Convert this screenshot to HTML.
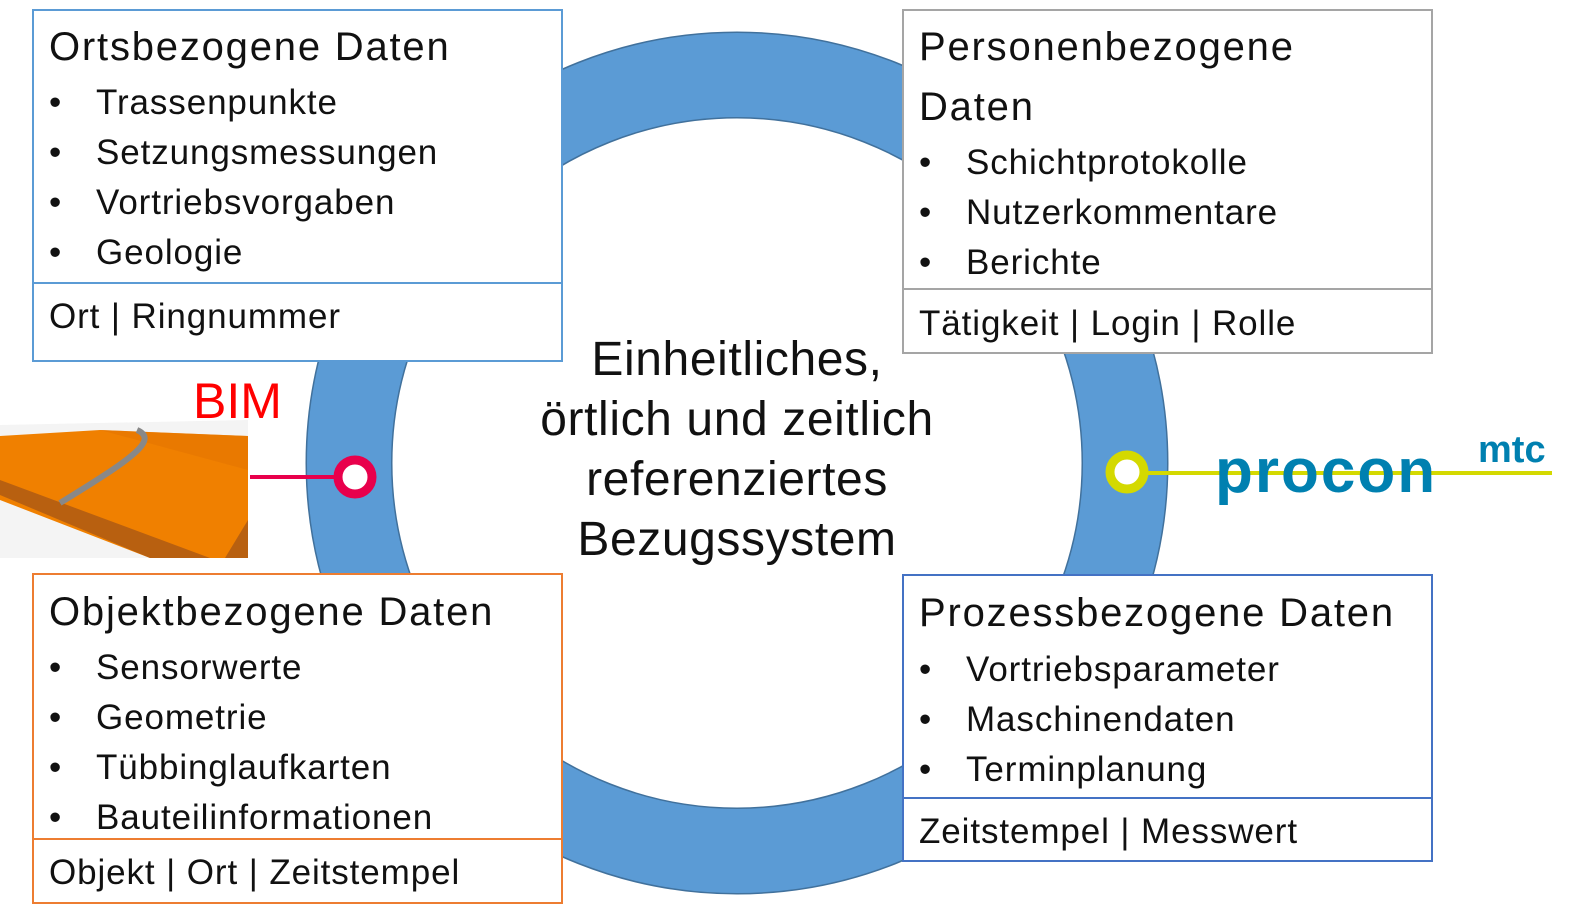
<!DOCTYPE html>
<html><head><meta charset="utf-8"><style>
body{margin:0;width:1573px;height:923px;background:#fff;position:relative;overflow:hidden;font-family:"Liberation Sans",sans-serif;color:#111}
.box{position:absolute;background:#fff;box-sizing:border-box;border:2px solid}
.t{position:absolute;left:15px;font-size:40px;letter-spacing:1.8px;white-space:nowrap}
.b{position:absolute;left:15px;font-size:35px;letter-spacing:0.9px;white-space:nowrap}
.b span{display:inline-block;width:47px}
.div{position:absolute;left:0;right:0;border-top:2px solid}
.c{position:absolute;left:387px;width:700px;text-align:center;font-size:48px;letter-spacing:0.6px}
</style></head><body>
<svg width="1573" height="923" style="position:absolute;left:0;top:0">
<circle cx="737" cy="463" r="388" fill="none" stroke="#41719c" stroke-width="87"/>
<circle cx="737" cy="463" r="388" fill="none" stroke="#5b9bd5" stroke-width="84"/>
<polygon points="0,425 248,420 248,558 0,558" fill="#f4f4f4"/>
<polygon points="0,436 100,430 248,436 248,558 150,558 0,500" fill="#f08000"/>
<polygon points="100,430 248,470 248,436" fill="#e57500" opacity="0.6"/>
<polygon points="0,495 150,558 210,558 0,480" fill="#b86010"/>
<polygon points="248,520 248,558 225,558" fill="#b86010"/>
<path d="M137,430 C160,440 130,460 60,503" stroke="#888" stroke-width="6" fill="none"/>
<line x1="250" y1="477" x2="340" y2="477" stroke="#e8004c" stroke-width="4"/>
<circle cx="355" cy="477" r="17" fill="#fff" stroke="#e8004c" stroke-width="9"/>
<line x1="1140" y1="473" x2="1552" y2="473" stroke="#d4d900" stroke-width="4"/>
<circle cx="1127" cy="472" r="17" fill="#fff" stroke="#d4d900" stroke-width="9"/>
<text x="1215" y="492" font-family="Liberation Sans" font-weight="bold" font-size="62" fill="#0080b0" letter-spacing="2">procon</text>
<text x="1478" y="462" font-family="Liberation Sans" font-weight="bold" font-size="38" fill="#0080b0">mtc</text>
</svg>
<div style="position:absolute;left:193px;top:372px;font-size:50px;color:#f00">BIM</div>

<div class="box" style="left:32px;top:9px;width:531px;height:353px;border-color:#5b9bd5">
<div class="t" style="top:14px">Ortsbezogene Daten</div>
<div class="b" style="top:72px"><span>•</span>Trassenpunkte</div>
<div class="b" style="top:122px"><span>•</span>Setzungsmessungen</div>
<div class="b" style="top:172px"><span>•</span>Vortriebsvorgaben</div>
<div class="b" style="top:222px"><span>•</span>Geologie</div>
<div class="div" style="top:271px;border-color:#5b9bd5"></div>
<div class="b" style="top:286px">Ort | Ringnummer</div>
</div>

<div class="box" style="left:902px;top:9px;width:531px;height:345px;border-color:#a5a5a5">
<div class="t" style="top:14px">Personenbezogene</div>
<div class="t" style="top:74px">Daten</div>
<div class="b" style="top:132px"><span>•</span>Schichtprotokolle</div>
<div class="b" style="top:182px"><span>•</span>Nutzerkommentare</div>
<div class="b" style="top:232px"><span>•</span>Berichte</div>
<div class="div" style="top:277px;border-color:#a5a5a5"></div>
<div class="b" style="top:293px">Tätigkeit | Login | Rolle</div>
</div>

<div class="box" style="left:32px;top:573px;width:531px;height:331px;border-color:#ed7d31">
<div class="t" style="top:15px">Objektbezogene Daten</div>
<div class="b" style="top:73px"><span>•</span>Sensorwerte</div>
<div class="b" style="top:123px"><span>•</span>Geometrie</div>
<div class="b" style="top:173px"><span>•</span>Tübbinglaufkarten</div>
<div class="b" style="top:223px"><span>•</span>Bauteilinformationen</div>
<div class="div" style="top:263px;border-color:#ed7d31"></div>
<div class="b" style="top:278px">Objekt | Ort | Zeitstempel</div>
</div>

<div class="box" style="left:902px;top:574px;width:531px;height:288px;border-color:#4472c4">
<div class="t" style="top:15px">Prozessbezogene Daten</div>
<div class="b" style="top:74px"><span>•</span>Vortriebsparameter</div>
<div class="b" style="top:124px"><span>•</span>Maschinendaten</div>
<div class="b" style="top:174px"><span>•</span>Terminplanung</div>
<div class="div" style="top:221px;border-color:#4472c4"></div>
<div class="b" style="top:236px">Zeitstempel | Messwert</div>
</div>

<div class="c" style="top:332px">Einheitliches,</div>
<div class="c" style="top:392px">örtlich und zeitlich</div>
<div class="c" style="top:452px">referenziertes</div>
<div class="c" style="top:512px">Bezugssystem</div>
</body></html>
